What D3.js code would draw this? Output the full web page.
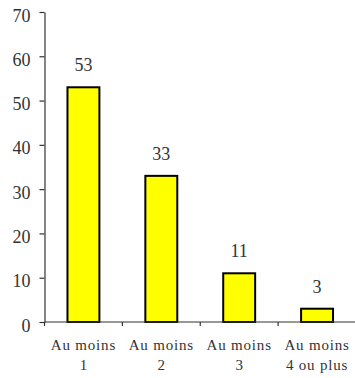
<!DOCTYPE html>
<html><head><meta charset="utf-8">
<script src="https://cdn.jsdelivr.net/npm/d3@7"></script>
<style>body{margin:0;background:#fff}svg{display:block}</style>
</head><body>
<svg id="c" width="355" height="378"></svg>
<script>
const categories = [["Au moins","1"],["Au moins","2"],["Au moins","3"],["Au moins","4 ou plus"]];
const values = [53, 33, 11, 3];
const yTicks = [0,10,20,30,40,50,60,70];

const svg = d3.select("#c");
const mLeft = 44.5, mRight = 356, mTop = 12, mBottom = 322;
const x = d3.scaleBand().domain(d3.range(categories.length)).range([mLeft, mRight]).padding(0);
const y = d3.scaleLinear().domain([0,70]).range([mBottom, mTop]);
const font = "'Liberation Serif', 'Times New Roman', serif";
const ink = "#333";

// y axis
const ya = svg.append("g").attr("transform", `translate(${mLeft},0)`)
  .call(d3.axisLeft(y).tickValues(yTicks).tickSize(5).tickPadding(9).tickSizeOuter(0));
ya.select(".domain").attr("stroke", ink).attr("stroke-width", 1.2);
ya.selectAll(".tick line").attr("stroke", ink).attr("stroke-width", 1.2);
ya.selectAll(".tick text").attr("font-family", font).attr("font-size", 18).attr("fill", ink).attr("dy", "0.5em");

// bars
const bw = x.bandwidth() * 0.41;
svg.append("g").selectAll("rect").data(values).join("rect")
  .attr("x", (d,i) => x(i) + x.bandwidth()/2 - bw/2)
  .attr("y", d => y(d))
  .attr("width", bw)
  .attr("height", d => y(0) - y(d))
  .attr("fill", "#ffff00").attr("stroke", "#000").attr("stroke-width", 2);

// value labels
svg.append("g").selectAll("text").data(values).join("text")
  .attr("x", (d,i) => x(i) + x.bandwidth()/2)
  .attr("y", d => y(d) - 16)
  .attr("text-anchor", "middle")
  .attr("font-family", font).attr("font-size", 18).attr("fill", ink)
  .text(d => d);

// x axis line and ticks
const xg = svg.append("g");
xg.append("line").attr("x1", mLeft).attr("x2", 355).attr("y1", mBottom).attr("y2", mBottom)
  .attr("stroke", ink).attr("stroke-width", 1.2);
xg.selectAll("line.t").data(d3.range(categories.length)).join("line").attr("class","t")
  .attr("x1", i => x(i)).attr("x2", i => x(i)).attr("y1", mBottom).attr("y2", mBottom + 4)
  .attr("stroke", ink).attr("stroke-width", 1.2);

// category labels
const lab = svg.append("g").selectAll("text").data(categories).join("text")
  .attr("text-anchor", "middle")
  .attr("font-family", font).attr("font-size", 15).attr("fill", ink);
lab.each(function(d,i){
  const t = d3.select(this);
  d.forEach((line, k) => {
    t.append("tspan").attr("x", x(i) + x.bandwidth()/2).attr("y", 350 + k*20)
      .attr("letter-spacing", line.length > 3 ? 0.8 : 0).text(line);
  });
});
</script>
</body></html>
